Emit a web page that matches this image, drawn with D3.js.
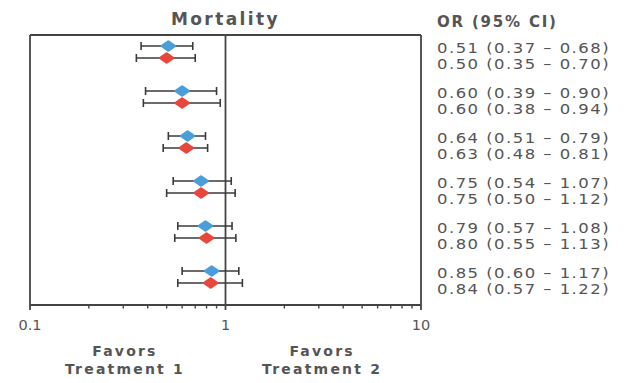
<!DOCTYPE html>
<html>
<head>
<meta charset="utf-8">
<script src="https://cdn.jsdelivr.net/npm/d3@7"></script>
<style>
  html, body { margin: 0; padding: 0; background: #fff; }
  svg { display: block; }
  text { font-family: "DejaVu Sans", sans-serif; fill: #555; }
</style>
</head>
<body>
<svg id="chart" width="625" height="383"></svg>
<script>
// Odds ratios with 95% confidence intervals, two series per row
const rows = [0, 1, 2, 3, 4, 5];
const or1 = [0.51, 0.60, 0.64, 0.75, 0.79, 0.85];
const lo1 = [0.37, 0.39, 0.51, 0.54, 0.57, 0.60];
const hi1 = [0.68, 0.90, 0.79, 1.07, 1.08, 1.17];
const or2 = [0.50, 0.60, 0.63, 0.75, 0.80, 0.84];
const lo2 = [0.35, 0.38, 0.48, 0.50, 0.55, 0.57];
const hi2 = [0.70, 0.94, 0.81, 1.12, 1.13, 1.22];
const xTicks = [0.1, 1, 10];
const seriesColors = ["#4a9ed9", "#e8473c"];
const title = "Mortality";
const tableHeader = "OR (95% CI)";
const favorsLeft = ["Favors", "Treatment 1"];
const favorsRight = ["Favors", "Treatment 2"];

const svg = d3.select("#chart");
const plot = { left: 30, right: 421, top: 35, bottom: 305 };

const x = d3.scaleLog().domain([0.1, 10]).range([plot.left, plot.right]);
const y = d3.scalePoint().domain(rows).range([52, 277]);
const pairOffset = 6;

const fmt = d3.format(".2f");
const series = [
  { or: or1, lo: lo1, hi: hi1, color: seriesColors[0], dy: -pairOffset },
  { or: or2, lo: lo2, hi: hi2, color: seriesColors[1], dy: pairOffset }
];

// Frame: top, left and right borders
const frame = svg.append("g").attr("stroke", "#444").attr("stroke-width", 1.8).attr("fill", "none");
frame.append("line").attr("x1", plot.left).attr("x2", plot.right).attr("y1", plot.top).attr("y2", plot.top);
frame.append("line").attr("x1", plot.left).attr("x2", plot.left).attr("y1", plot.top).attr("y2", plot.bottom + 5);
frame.append("line").attr("x1", plot.right).attr("x2", plot.right).attr("y1", plot.top).attr("y2", plot.bottom + 5);
// Line of no effect
frame.append("line").attr("x1", x(1)).attr("x2", x(1)).attr("y1", plot.top).attr("y2", plot.bottom + 5);

// Bottom log axis with minor ticks
const minorTicks = x.ticks(10).filter(v => !xTicks.includes(v));
const axisG = svg.append("g").attr("transform", `translate(0,${plot.bottom})`);
axisG.append("line").attr("x1", plot.left).attr("x2", plot.right)
  .attr("stroke", "#444").attr("stroke-width", 1.8);
axisG.selectAll("line.minor").data(minorTicks).join("line")
  .attr("class", "minor")
  .attr("x1", d => x(d)).attr("x2", d => x(d))
  .attr("y1", 0).attr("y2", 3.5)
  .attr("stroke", "#444").attr("stroke-width", 1.4);
axisG.selectAll("text").data(xTicks).join("text")
  .attr("x", d => x(d)).attr("y", 25)
  .attr("text-anchor", "middle")
  .attr("font-size", 14.5)
  .text(d => d3.format("~g")(d));

// Error bars and markers
series.forEach(s => {
  const g = svg.append("g");
  rows.forEach(i => {
    const cy = y(i) + s.dy;
    const bar = g.append("g").attr("stroke", "#3a3a3a").attr("stroke-width", 1.6);
    bar.append("line").attr("x1", x(s.lo[i])).attr("x2", x(s.hi[i])).attr("y1", cy).attr("y2", cy);
    bar.append("line").attr("x1", x(s.lo[i])).attr("x2", x(s.lo[i])).attr("y1", cy - 4).attr("y2", cy + 4);
    bar.append("line").attr("x1", x(s.hi[i])).attr("x2", x(s.hi[i])).attr("y1", cy - 4).attr("y2", cy + 4);
    const cx = x(s.or[i]);
    g.append("path")
      .attr("d", `M${cx - 6.5},${cy} L${cx},${cy - 4.5} L${cx + 6.5},${cy} L${cx},${cy + 4.5} Z`)
      .attr("fill", s.color)
      .attr("stroke", s.color)
      .attr("stroke-width", 2.5)
      .attr("stroke-linejoin", "round");
  });
});

// Title
svg.append("text")
  .attr("x", x(1)).attr("y", 25)
  .attr("text-anchor", "middle")
  .attr("font-size", 17).attr("font-weight", "bold")
  .attr("letter-spacing", 2.4)
  .text(title);

// Table of odds ratios (wide type: glyphs stretched horizontally)
const tableX = 437;
svg.append("text")
  .attr("x", tableX).attr("y", 27)
  .attr("font-size", 15).attr("font-weight", "bold")
  .attr("letter-spacing", 1.8)
  .text(tableHeader);
const table = svg.append("g").attr("transform", `translate(${tableX},0) scale(1.22,1)`);
series.forEach((s, k) => {
  table.append("g").selectAll("text").data(rows).join("text")
    .attr("x", 0)
    .attr("y", d => y(d) + (k === 0 ? 1 : 17))
    .attr("font-size", 13.5)
    .attr("letter-spacing", 1.2)
    .text(d => `${fmt(s.or[d])} (${fmt(s.lo[d])} \u2013 ${fmt(s.hi[d])})`);
});

// Direction labels under the axis
[[favorsLeft, 0.306], [favorsRight, 3.12]].forEach(([lines, v]) => {
  const t = svg.append("text")
    .attr("text-anchor", "middle")
    .attr("font-size", 14).attr("font-weight", "bold")
    .attr("letter-spacing", 2.2);
  lines.forEach((line, j) => {
    t.append("tspan").attr("x", x(v)).attr("y", 356 + j * 18).text(line);
  });
});
</script>
</body>
</html>
